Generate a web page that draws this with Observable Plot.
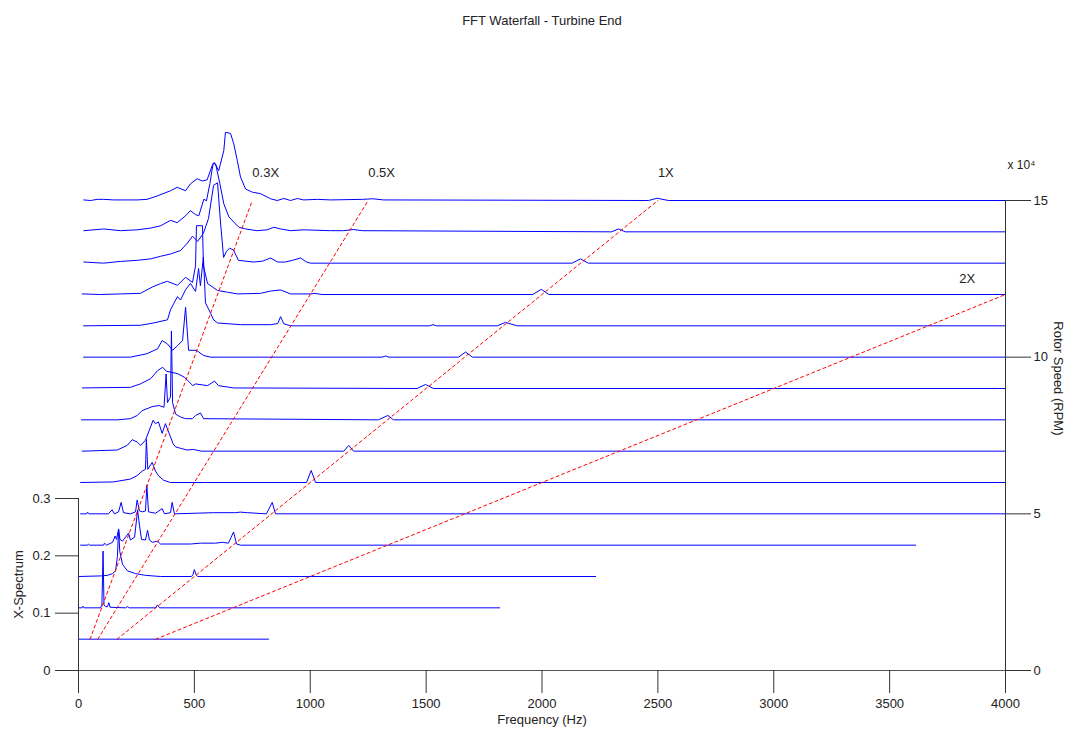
<!DOCTYPE html>
<html><head><meta charset="utf-8">
<script src="https://cdn.jsdelivr.net/npm/d3@7"></script>
<script src="https://cdn.jsdelivr.net/npm/@observablehq/plot@0.6"></script>
<style>
html,body{margin:0;padding:0;background:#fff;}
#chart svg{display:block;}
</style></head><body><div id="chart"></div>
<script>
// Rotor speeds of the spectra (RPM)
const speeds = [10000,20000,30000,40000,50000,60000,70000,80000,90000,100000,110000,120000,130000,140000,150000];
// Spectra: [frequency Hz, X-Spectrum amplitude]
const s10k = [[0,0],[820,0]];
const s20k = [[0,0],[15,0],[19,0.003],[24,0],[95,0],[101,0.005],[106,0.099],[110,0.005],[117,0.002],[125,0.002],[131,0.009],[136,0.001],[203,0],[211,0.002],[220,0],[332,0],[341,0.005],[350,0],[1817,0]];
const s30k = [[0,0],[95,0.001],[125,0.002],[147,0.005],[160,0.01],[168,0.035],[173,0.083],[178,0.044],[190,0.021],[211,0.01],[246,0.005],[289,0.002],[354,0],[488,0],[494,0.0035],[500,0.012],[507,0.0035],[514,0],[2231,0]];
const s40k = [[9,0],[39,0],[43,0.002],[48,0],[108,0],[112,0.0035],[121,0],[147,0.005],[158,0.016],[164,0.01],[173,0.028],[179,0.01],[190,0.007],[207,0.016],[216,0.021],[224,0.009],[242,0.014],[255,0.061],[263,0.035],[272,0.01],[289,0.009],[298,0.026],[306,0.009],[319,0.005],[341,0.007],[354,0.002],[483,0.002],[526,0.0035],[591,0.0035],[621,0.005],[647,0.0035],[669,0.023],[682,0.002],[699,0],[3612,0]];
const s50k = [[9,0],[35,0],[39,0.003],[45,0],[129,0],[145,0.007],[155,0],[173,0.0035],[184,0.02],[194,0.002],[224,0],[246,0.0035],[253,0.024],[263,0.005],[276,0.0035],[289,0.005],[295,0.05],[302,0.0035],[332,0.001],[361,0.009],[371,0],[397,0.002],[404,0.02],[414,0],[583,0.002],[677,0.002],[699,0.003],[729,0.002],[811,0],[836,0.02],[850,0],[4000,0]];
const s60k = [[9,0],[151,0.001],[224,0.006],[253,0.012],[275,0.02],[289,0.023],[293,0.075],[299,0.023],[318,0.035],[332,0.02],[345,0.012],[367,0.004],[397,0],[984,0],[1004,0.021],[1023,0],[4000,0]];
const s70k = [[16,0],[167,0.002],[210,0.01],[232,0.02],[253,0.016],[268,0.01],[289,0.019],[322,0.054],[332,0.048],[345,0.051],[361,0.031],[375,0.048],[397,0.025],[408,0.013],[419,0.0075],[440,0.005],[468,0.002],[496,0.003],[530,0],[1145,0],[1166,0.01],[1187,0],[4000,0]];
const s80k = [[13,0],[167,0],[224,0.002],[253,0.0075],[274,0.016],[318,0.023],[347,0.025],[369,0.022],[378,0.08],[384,0.03],[397,0.04],[401,0.155],[406,0.03],[419,0.01],[440,0.005],[462,0.002],[492,0.002],[505,0.0075],[526,0.012],[540,0.002],[1294,0],[1335,0.0076],[1359,0],[4000,0]];
const s90k = [[17,0.001],[224,0.002],[267,0.008],[311,0.017],[341,0.031],[363,0.037],[380,0.03],[427,0.026],[456,0.02],[479,0.011],[493,0.005],[505,0.008],[557,0.005],[587,0.013],[604,0.005],[669,0.001],[1461,0],[1497,0.007],[1532,0],[4000,0]];
const s100k = [[22,0],[224,0],[295,0.006],[341,0.0145],[361,0.029],[384,0.023],[406,0.012],[427,0.02],[449,0.029],[462,0.087],[475,0.012],[509,0.012],[539,0.003],[570,0],[1310,0],[1325,0.002],[1340,0],[1640,0],[1670,0.009],[1700,0],[4000,0]];
const s110k = [[22,0],[267,0.001],[324,0.005],[384,0.0105],[397,0.028],[427,0.051],[440,0.045],[462,0.063],[483,0.074],[505,0.06],[518,0.1],[526,0.07],[539,0.12],[548,0.04],[570,0.022],[583,0.0105],[600,0.005],[699,0.002],[829,0.002],[860,0.004],[872,0.016],[886,0.0035],[915,0],[1515,0],[1530,0.002],[1545,0],[1807,0],[1842,0.006],[1893,0],[4000,0]];
const s120k = [[16,0.001],[95,0],[181,0.001],[267,0.002],[318,0.013],[354,0.019],[383,0.023],[427,0.016],[462,0.03],[492,0.021],[505,0.05],[509,0.12],[535,0.12],[539,0.05],[557,0.019],[600,0.007],[643,0.004],[686,0.001],[785,0.002],[829,0.006],[872,0.008],[915,0.001],[1000,0.001],[1020,0.002],[1050,0],[1960,0],[1997,0.009],[2030,0],[4000,0]];
const s130k = [[23,0.002],[108,0],[181,0.003],[255,0.005],[311,0.0075],[354,0.012],[397,0.016],[440,0.022],[470,0.035],[492,0.047],[514,0.038],[539,0.052],[561,0.078],[583,0.136],[600,0.14],[613,0.07],[626,0.01],[639,0.021],[652,0.026],[669,0.023],[690,0.005],[755,0.002],[794,0.0035],[829,0.009],[859,0.002],[892,0.002],[923,0.005],[958,0.009],[984,0.002],[1001,0],[2130,0],[2166,0.0075],[2200,0],[4000,0]];
const s140k = [[23,0.002],[109,0.005],[181,0.002],[253,0.0035],[311,0.0065],[354,0.0105],[397,0.02],[426,0.016],[462,0.028],[483,0.037],[505,0.03],[519,0.028],[541,0.057],[552,0.054],[567,0.084],[581,0.12],[592,0.118],[610,0.084],[627,0.049],[649,0.026],[670,0.017],[692,0.008],[721,0.005],[771,0.002],[814,0.0035],[843,0.008],[872,0.005],[915,0.002],[972,0.0035],[1087,0.002],[1144,0.002],[1185,0.004],[1225,0.002],[2300,0],[2330,0.005],[2360,0],[4000,0]];
const s150k = [[23,0.001],[52,0],[81,0.002],[109,0.002],[152,0.001],[253,0.001],[296,0.002],[340,0.008],[397,0.017],[426,0.023],[462,0.017],[483,0.029],[512,0.038],[534,0.034],[555,0.036],[577,0.061],[587,0.066],[605,0.052],[627,0.087],[634,0.119],[656,0.117],[670,0.099],[685,0.07],[699,0.041],[721,0.02],[750,0.0145],[785,0.012],[829,0.003],[857,0],[886,0.0035],[915,0],[944,0.0035],[972,0.001],[1030,0.002],[1087,0.001],[1225,0.002],[1270,0.003],[1316,0.001],[2460,0],[2497,0.004],[2545,0],[4000,0]];
const spectra = [s10k,s20k,s30k,s40k,s50k,s60k,s70k,s80k,s90k,s100k,s110k,s120k,s130k,s140k,s150k];

// Order lines
const orders = [0.3, 0.5, 1, 2];
const orderLabels = ["0.3X", "0.5X", "1X", "2X"];
const orderStartSpeed = [10000, 10000, 10000, 10000];
const orderEndSpeed = [150000, 150000, 150000, 120000];
const labelFreq = [750, 1250, 2500, 3800];
const labelSpeed = [158900, 158900, 158900, 125100];

// Axis ticks
const freqTicks = [0,500,1000,1500,2000,2500,3000,3500,4000];
const ampTicks = [0, 0.1, 0.2, 0.3];
const speedTicks = [0, 50000, 100000, 150000];

// projection of the spectrum (z) axis onto the speed axis: RPM per amplitude unit
const K = 182970;

const rows = spectra.flatMap((s, i) => s.map(([f, a]) => ({speed: speeds[i], f, a})));
const orderRows = orders.flatMap((o, i) => [
  {o, f: o * orderStartSpeed[i] / 60, s: orderStartSpeed[i]},
  {o, f: o * orderEndSpeed[i] / 60, s: orderEndSpeed[i]}
]);
const labelRows = orders.map((o, i) => ({t: orderLabels[i], f: labelFreq[i], s: labelSpeed[i]}));

const ink = "#222";
const axisInk = "#333";
const fmtAmp = d3.format(".1~f");

const chart = Plot.plot({
  width: 1076,
  height: 736,
  marginLeft: 78,
  marginRight: 71,
  marginTop: 200,
  marginBottom: 66,
  style: {fontFamily: "Arial, 'Liberation Sans', Helvetica, sans-serif", fontSize: "13px", color: ink, background: "#fff"},
  x: {domain: [0, 4000], axis: null},
  y: {domain: [0, 150000], axis: null},
  marks: [
    // spectra
    Plot.line(rows, {x: "f", y: d => d.speed + d.a * K, z: "speed", stroke: "#0000ff", strokeWidth: 1}),
    // order lines
    Plot.line(orderRows, {x: "f", y: "s", z: "o", stroke: "#ff0000", strokeWidth: 1, strokeDasharray: "3,3"}),
    Plot.text(labelRows, {x: "f", y: "s", text: "t", textAnchor: "start", fill: ink, fontSize: 13}),
    // bottom axis
    Plot.ruleY([0], {stroke: "#555"}),
    Plot.axisX({ticks: freqTicks, tickFormat: d => String(d), tickSize: 23, tickPadding: 5, stroke: axisInk, fill: ink, label: null}),
    Plot.text(["Frequency (Hz)"], {frameAnchor: "bottom", text: d => d, dy: 53, fill: ink}),
    // left axis (X-Spectrum)
    Plot.ruleX([0], {y1: 0, y2: ampTicks[ampTicks.length - 1] * K, stroke: axisInk}),
    Plot.axisY({anchor: "left", ticks: ampTicks.map(a => a * K), tickFormat: d => fmtAmp(d / K), tickSize: 23, tickPadding: 5, stroke: axisInk, fill: ink, label: null}),
    Plot.text([0.15 * K], {x: () => 0, y: d => d, text: () => "X-Spectrum", rotate: -90, dx: -60, fill: ink}),
    // right axis (Rotor Speed)
    Plot.ruleX([4000], {y1: 0, y2: 150000, stroke: axisInk}),
    Plot.axisY({anchor: "right", ticks: speedTicks, tickFormat: d => String(d / 1e4), tickSize: 25, tickPadding: 3, stroke: axisInk, fill: ink, label: null}),
    Plot.text(["x 10\u2074"], {frameAnchor: "top-right", text: d => d, textAnchor: "start", dx: 2, dy: -40, fill: ink, fontSize: 12}),
    Plot.text(["Rotor Speed (RPM)"], {frameAnchor: "right", text: d => d, rotate: 90, dx: 53, fill: ink}),
    // title
    Plot.text(["FFT Waterfall - Turbine End"], {frameAnchor: "top", text: d => d, dy: -185, fill: ink})
  ]
});
document.getElementById("chart").append(chart);
</script>
</body></html>
